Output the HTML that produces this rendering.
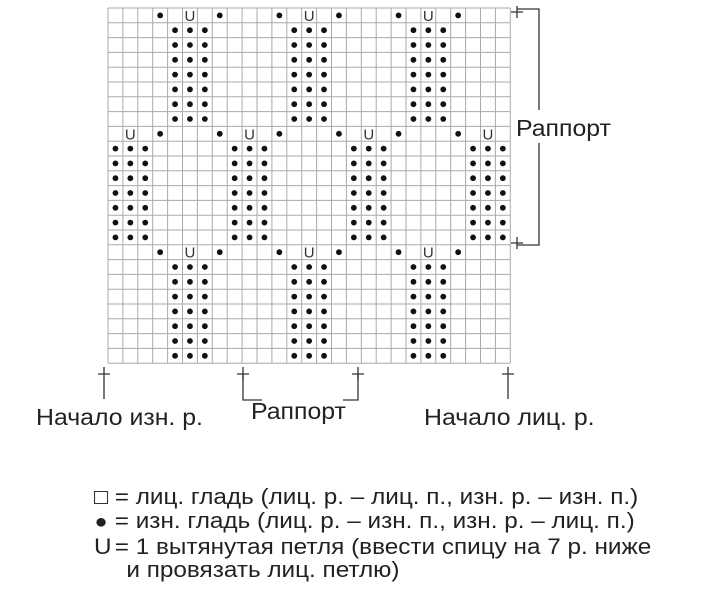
<!DOCTYPE html>
<html><head><meta charset="utf-8"><style>
body{margin:0;background:#fff;width:720px;height:613px;overflow:hidden;font-family:"Liberation Sans",sans-serif;color:#222}
.t{position:absolute;font-size:23px;white-space:nowrap;line-height:26px;transform:scaleX(1.08);transform-origin:0 0}
</style></head><body>
<svg width="720" height="613" style="position:absolute;left:0;top:0" xmlns="http://www.w3.org/2000/svg">
<g id="g"></g>
</svg>
<div class="t" style="left:516px;top:115px">Раппорт</div>
<div class="t" style="left:36px;top:404px">Начало изн. р.</div>
<div class="t" style="left:251px;top:398px">Раппорт</div>
<div class="t" style="left:424px;top:404px">Начало лиц. р.</div>
<div class="t" style="left:94px;top:485px;font-size:22.5px;line-height:23.8px">
<span style="display:inline-block;width:13px;height:13px;border:1px solid #333;box-sizing:border-box;vertical-align:0"></span> = лиц. гладь (лиц. р. – лиц. п., изн. р. – изн. п.)<br>
<span style="display:inline-block;width:13px;text-align:center;font-size:20px">●</span> = изн. гладь (лиц. р. – изн. п., изн. р. – лиц. п.)<br>
<span style="display:inline-block;width:13px;text-align:center">U</span> = 1 вытянутая петля (ввести спицу на 7 р. ниже<br>
<span style="display:inline-block;width:30px"></span>и провязать лиц. петлю)
</div>
<script>
var L=108,T=8,W=14.9,H=14.8,C=27,R=24,s='';
for(var i=0;i<=C;i++)s+='<line x1="'+(L+i*W)+'" y1="'+T+'" x2="'+(L+i*W)+'" y2="'+(T+R*H)+'" stroke="#aaa" stroke-width="1"/>';
for(var j=0;j<=R;j++)s+='<line x1="'+L+'" y1="'+(T+j*H)+'" x2="'+(L+C*W)+'" y2="'+(T+j*H)+'" stroke="#aaa" stroke-width="1"/>';
function dot(c,r){s+='<circle cx="'+(L+(c+.5)*W)+'" cy="'+(T+(r+.5)*H)+'" r="2.9" fill="#111"/>';}
function u(c,r){s+='<text x="'+(L+(c+.5)*W)+'" y="'+(T+(r+.5)*H+5.5)+'" font-size="15" text-anchor="middle" font-family="Liberation Sans" fill="#333">U</text>';}
function band(r0,us,cols){ for(var c=0;c<C;c++){ if(c%8==3||c%8==7)dot(c,r0);} us.forEach(function(c){u(c,r0)});
 cols.forEach(function(c0){for(var r=r0+1;r<r0+8;r++)for(var k=0;k<3;k++)if(c0+k<C&&c0+k>=0)dot(c0+k,r);});}
band(0,[5,13,21],[4,12,20]);band(8,[1,9,17,25],[0,8,16,24]);band(16,[5,13,21],[4,12,20]);
var st='stroke="#333" stroke-width="1.3" fill="none"';
s+='<path d="M517 9 H539 V110 M539 143 V245 H517" '+st+'/>';
s+='<path d="M511 12 H523 M517 6 V18 M511 243 H523 M517 237 V249" '+st+'/>';
[104,243,358,508].forEach(function(x){s+='<path d="M'+(x-6)+' 374 H'+(x+6)+' M'+x+' 367 V'+(x==104||x==508?399:380)+'" '+st+'/>';});
s+='<path d="M243 374 V400 H262 M358 374 V400 H343" '+st+'/>';
document.getElementById('g').innerHTML=s;
</script>
</body></html>
